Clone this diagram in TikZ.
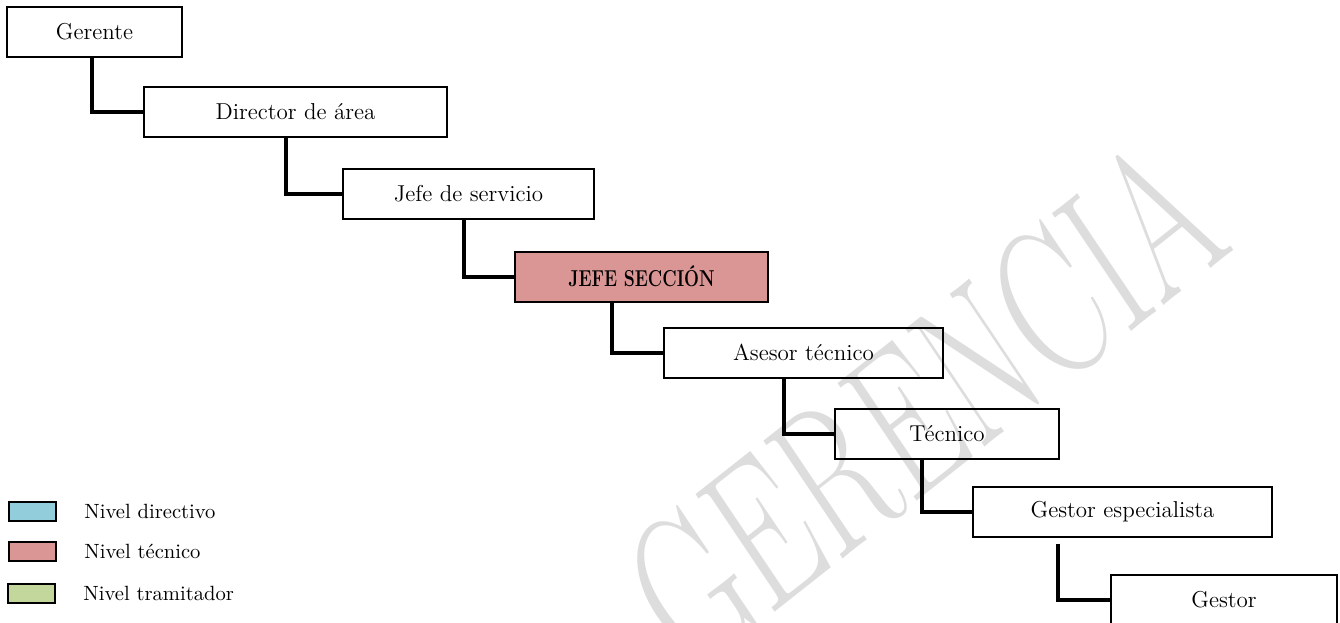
\documentclass[tikz,border=0pt]{standalone}
\usepackage{fontspec}
\usepackage{graphicx}
\usetikzlibrary{positioning,calc}
\definecolor{directivo}{HTML}{92CDDC}
\definecolor{tecnico}{HTML}{D99694}
\definecolor{tramitador}{HTML}{C3D69B}
\definecolor{marca}{HTML}{DDDDDD}
\tikzset{
    puesto/.style={draw, line width=1pt, minimum height=25pt, inner sep=0pt, font=\fontsize{11.5}{14}\selectfont},
    enlace/.style={line width=2pt},
    muestra/.style={draw, line width=1pt, minimum width=23.5pt, minimum height=9.5pt, inner sep=0pt},
    leyenda/.style={inner sep=0pt, anchor=west, font=\fontsize{10.3}{12}\selectfont},
  }

\begin{document}
\begin{tikzpicture}[x=0.5pt,y=-0.5pt]
  \useasboundingbox (0,0) rectangle (1340,622);
  %marca de agua
  \node[text=marca, inner sep=0pt, font=\fontsize{104}{104}\selectfont, cm={0.52,0.41,-0.558,0.830,(0,0)}] (agua) at (924,404) {GERENCIA};

  %puestos
  \node[puesto, minimum width=87.5pt] (gerente) at (94.5,32) {Gerente};
  \node[puesto, minimum width=151.5pt] (director) at (295.5,112) {Director de área};
  \node[puesto, minimum width=125.5pt] (jefeserv) at (468.5,193.5) {Jefe de servicio};
  \node[puesto, minimum width=126.5pt, fill=tecnico] (jefesec) at (641.5,276.5) {\scalebox{0.77}[1]{\bfseries JEFE SECCIÓN}};
  \node[puesto, minimum width=139.5pt] (asesor) at (803.5,352.5) {Asesor técnico};
  \node[puesto, minimum width=112pt] (tecnico) at (947,434) {Técnico};
  \node[puesto, minimum width=149.5pt] (gestesp) at (1122.5,511.5) {Gestor especialista};
  \node[puesto, minimum width=113pt] (gestor) at (1224,600) {Gestor};

  %enlaces
  \draw[enlace] (gerente.south west) ++(86,0) |- (director.west);
  \draw[enlace] (director.south west) ++(143,0) |- (jefeserv.west);
  \draw[enlace] (jefeserv.south west) ++(122,0) |- (jefesec.west);
  \draw[enlace] (jefesec.south west) ++(98,0) |- (asesor.west);
  \draw[enlace] (asesor.south west) ++(121,0) |- (tecnico.west);
  \draw[enlace] (tecnico.south west) ++(88,0) |- (gestesp.west);
  \draw[enlace] (gestesp.south west) ++(86,6) |- (gestor.west);

  %leyenda
  \node[muestra, fill=directivo] (leyDir) at (32.5,511.5) {};
  \node[muestra, fill=tecnico] (leyTec) at (32.5,551.5) {};
  \node[muestra, fill=tramitador] (leyTram) at (31.5,593) {};
  \node[leyenda, right=13.5pt of leyDir] (txtDir) {Nivel directivo};
  \node[leyenda, right=13.5pt of leyTec] (txtTec) {Nivel técnico};
  \node[leyenda, right=13.5pt of leyTram] (txtTram) {Nivel tramitador};
\end{tikzpicture}
\end{document}
